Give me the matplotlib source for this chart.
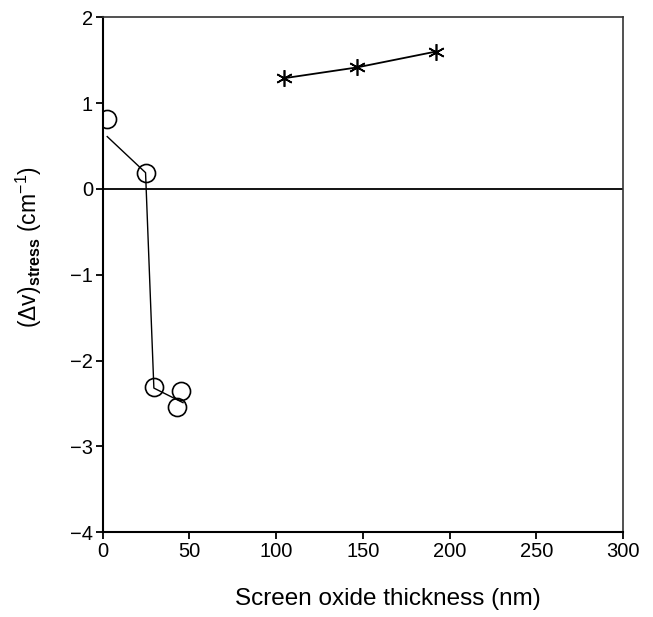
import matplotlib
matplotlib.use("Agg")
import matplotlib.pyplot as plt

plt.rcParams['font.family'] = ['Liberation Sans', 'DejaVu Sans']
plt.rcParams['mathtext.fontset'] = 'custom'
plt.rcParams['mathtext.rm'] = 'Liberation Sans'
plt.rcParams['mathtext.it'] = 'Liberation Sans'
plt.rcParams['mathtext.bf'] = 'Liberation Sans:bold'

# Measured stress shifts (circles) and the connecting trend
circle_x = [2.6, 24.7, 29.5, 42.7, 45.1]
circle_y = [0.81, 0.18, -2.31, -2.54, -2.35]
trend_x = [2.6, 24.7, 29.5, 46.3]
trend_y = [0.61, 0.19, -2.32, -2.49]

# Thick screen oxide series (stars)
star_x = [104.6, 146.4, 192.0]
star_y = [1.29, 1.415, 1.60]

x_ticks = [0, 50, 100, 150, 200, 250, 300]
y_ticks = [-4, -3, -2, -1, 0, 1, 2]

fig = plt.figure(figsize=(6.53, 6.17), dpi=100)
ax = fig.add_axes([0.1573, 0.1373, 0.7967, 0.8347])

ax.axhline(0, color='black', lw=1.3, zorder=1)
ax.plot(trend_x, trend_y, color='black', lw=1.0, zorder=2)
ax.plot(circle_x, circle_y, linestyle='none', marker='o', markersize=13,
        markerfacecolor='none', markeredgecolor='black', markeredgewidth=1.2, zorder=3)
ax.plot(star_x, star_y, color='black', lw=1.3, marker=(6, 2, 0), markersize=12,
        markeredgewidth=1.2, zorder=3)

ax.set_xlim(0, 300)
ax.set_ylim(-4, 2)
ax.set_xticks(x_ticks)
ax.set_yticks(y_ticks)
ax.set_yticklabels(['\u22124', '\u22123', '\u22122', '\u22121', '0', '1', '2'])
ax.tick_params(direction='out', length=5, width=1.3, labelsize=14.5, pad=2)

for side in ('left', 'bottom'):
    ax.spines[side].set_linewidth(1.5)
for side in ('top', 'right'):
    ax.spines[side].set_linewidth(1.2)
    ax.spines[side].set_color('#333333')

fig.text(388 / 653, 1 - 599 / 617, 'Screen oxide thickness (nm)', ha='center', va='center',
         fontsize=17.5)
fig.text(29 / 653, 1 - 247 / 617,
         r'$(\Delta v)_{\mathbf{stress}}$ (cm$^{-1}$)',
         ha='center', va='center', rotation=90, fontsize=16.5)

fig.savefig('out.png', dpi=100)
